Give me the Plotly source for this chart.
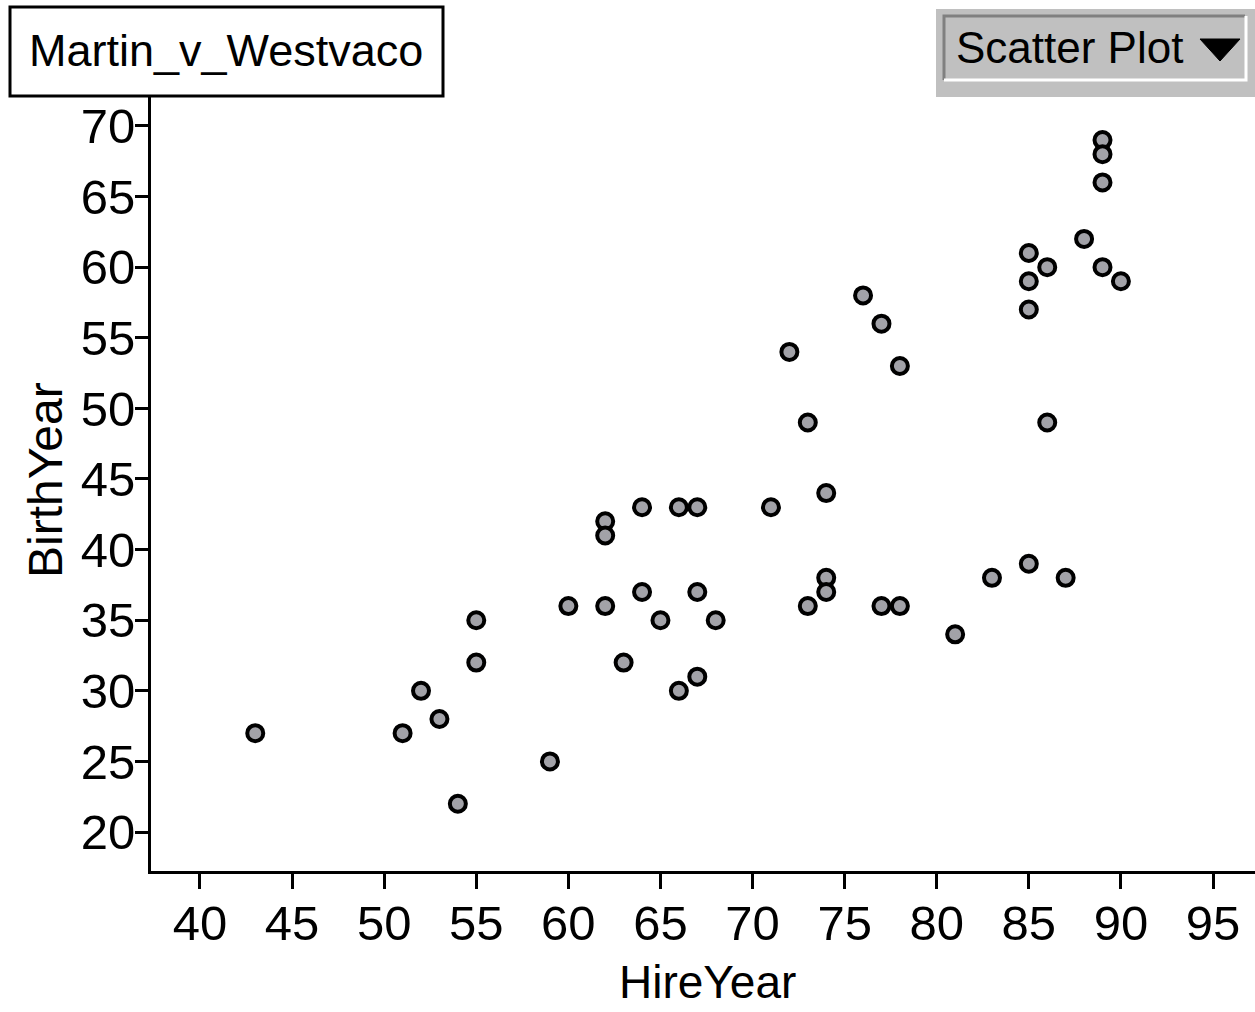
import plotly.graph_objects as go

hire_year = [43, 51, 52, 53, 54, 55, 55, 59, 60, 62, 62, 62, 63, 64, 64, 65, 66, 66, 67, 67,
             67, 68, 71, 72, 73, 73, 74, 74, 74, 76, 77, 77, 78, 78, 81, 83, 85, 85, 85, 85,
             86, 86, 87, 88, 89, 89, 89, 89, 90]
birth_year = [27, 27, 30, 28, 22, 35, 32, 25, 36, 42, 41, 36, 32, 43, 37, 35, 43, 30, 43, 37,
              31, 35, 43, 54, 49, 36, 44, 38, 37, 58, 56, 36, 53, 36, 34, 38, 61, 59, 57, 39,
              60, 49, 38, 62, 69, 68, 66, 60, 59]
x_ticks = [40, 45, 50, 55, 60, 65, 70, 75, 80, 85, 90, 95]
y_ticks = [20, 25, 30, 35, 40, 45, 50, 55, 60, 65, 70]

FONT = "Liberation Sans, Arial, sans-serif"

# plot area in pixels
PX0, PW, PY1, PH = 151, 1104, 871, 774


def px(x):
    return (x - PX0) / PW


def py(y):
    return (PY1 - y) / PH


fig = go.Figure(go.Scatter(
    x=hire_year, y=birth_year, mode="markers",
    marker=dict(size=16, color="#a2a2a8", line=dict(color="black", width=4)),
    cliponaxis=False,
))

fig.update_layout(
    width=1255, height=1012,
    margin=dict(l=151, r=0, t=97, b=141),
    paper_bgcolor="white", plot_bgcolor="white",
    showlegend=False,
    font=dict(family=FONT, color="black", size=48),
    xaxis=dict(range=[37.34, 97.28], tickvals=x_ticks, ticktext=[str(v) for v in x_ticks],
               showgrid=False, zeroline=False, showline=True, linecolor="black", linewidth=3,
               ticks="outside", ticklen=15, tickwidth=3, tickcolor="black",
               tickfont=dict(size=49, family=FONT), ticklabelstandoff=-8),
    yaxis=dict(range=[17.24, 72.05], tickvals=y_ticks, ticktext=[str(v) for v in y_ticks],
               showgrid=False, zeroline=False, showline=True, linecolor="black", linewidth=3,
               ticks="outside", ticklen=13, tickwidth=3, tickcolor="black",
               tickfont=dict(size=49, family=FONT), ticklabelstandoff=-10),
)

# axis titles
fig.add_annotation(xref="paper", yref="paper", x=px(707), y=py(982), xanchor="center", yanchor="middle",
                   text="HireYear", showarrow=False, font=dict(size=46, family=FONT, color="black"))
fig.add_annotation(xref="paper", yref="paper", x=px(46), y=py(480), xanchor="center", yanchor="middle",
                   text="BirthYear", textangle=-90, showarrow=False,
                   font=dict(size=48, family=FONT, color="black"))

# title box
fig.add_shape(type="rect", xref="paper", yref="paper", layer="above",
              x0=px(10), x1=px(443), y0=py(96), y1=py(7),
              fillcolor="white", line=dict(color="black", width=3))
fig.add_annotation(xref="paper", yref="paper", x=px(226), y=py(51), xanchor="center", yanchor="middle",
                   text="Martin_v_Westvaco", showarrow=False,
                   font=dict(size=45, family=FONT, color="black"))

# Scatter Plot button
fig.add_shape(type="rect", xref="paper", yref="paper", layer="above",
              x0=px(936), x1=px(1255), y0=py(97), y1=py(9),
              fillcolor="#c0c0c0", line=dict(width=0))
fig.add_shape(type="path", xref="paper", yref="paper", layer="above",
              path=f"M {px(1245)} {py(16)} L {px(944)} {py(16)} L {px(944)} {py(80)}",
              line=dict(color="#808080", width=3))
fig.add_shape(type="path", xref="paper", yref="paper", layer="above",
              path=f"M {px(944)} {py(80)} L {px(1246)} {py(80)} L {px(1246)} {py(16)}",
              line=dict(color="white", width=3))
fig.add_annotation(xref="paper", yref="paper", x=px(954), y=py(47), xanchor="left", yanchor="middle",
                   text="Scatter Plot", showarrow=False,
                   font=dict(size=44, family=FONT, color="black"))
fig.add_shape(type="path", xref="paper", yref="paper", layer="above",
              path=f"M {px(1200)} {py(39)} L {px(1240)} {py(39)} L {px(1220)} {py(61)} Z",
              fillcolor="black", line=dict(color="black", width=1))

fig.write_html("out.html", config={"displayModeBar": False},
               post_script="document.body.style.margin='0';")
